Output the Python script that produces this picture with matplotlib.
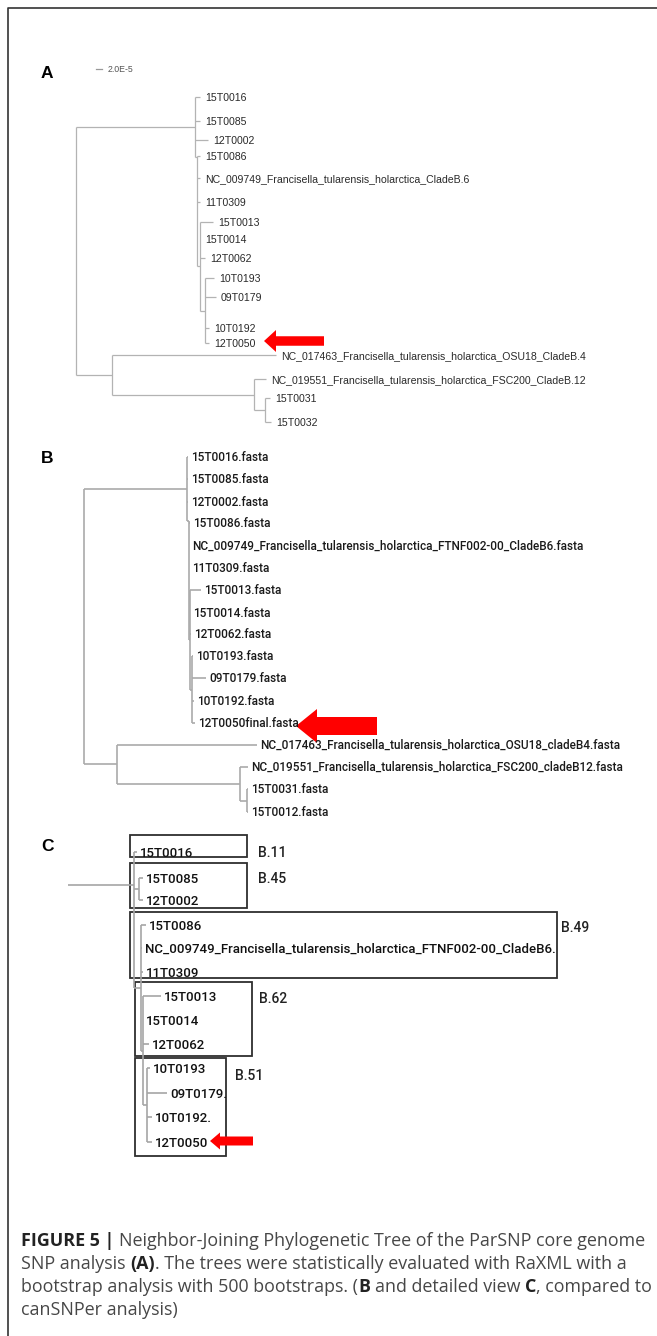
import matplotlib
matplotlib.use("Agg")
import matplotlib.pyplot as plt
from matplotlib.collections import LineCollection
from matplotlib.patches import FancyArrow, Rectangle

# ---------------------------------------------------------------- data
# shared topology (ints = leaf index, strings = internal nodes)
ab_children = {
    "R": ["U", "L"],
    "U": [0, 1, 2, "S"],
    "S": [3, 4, 5, "T"],
    "T": [6, 7, 8, "V"],
    "V": [9, 10, 11, 12],
    "L": [13, "M"],
    "M": [14, "N"],
    "N": [15, 16],
}
c_children = {
    "R": ["U"],
    "U": [0, "P", "S"],
    "P": [1, 2],
    "S": [3, 4, 5, "T"],
    "T": [6, 7, 8, "V"],
    "V": [9, 10, 11, 12],
}

# panel A
a_labels = ["15T0016", "15T0085", "12T0002", "15T0086",
            "NC_009749_Francisella_tularensis_holarctica_CladeB.6", "11T0309",
            "15T0013", "15T0014", "12T0062", "10T0193", "09T0179", "10T0192", "12T0050",
            "NC_017463_Francisella_tularensis_holarctica_OSU18_CladeB.4",
            "NC_019551_Francisella_tularensis_holarctica_FSC200_CladeB.12",
            "15T0031", "15T0032"]
a_rows = [97, 121, 140, 156, 178, 202, 222, 239, 258, 278, 297, 328, 343, 355, 379, 398, 422]
a_tips = [124, 124, 132, 124, 124, 124, 137, 124, 129, 138, 140, 133, 133, 200, 190, 194, 195]
a_node_names = ["R", "U", "S", "T", "V", "L", "M", "N"]
a_node_depths = [0, 119, 121, 124, 129, 36, 178, 189]
a_node_rows = {"S": 157}
a_scale_label = "2.0E-5"

# panel B
b_labels = ["15T0016.fasta", "15T0085.fasta", "12T0002.fasta", "15T0086.fasta",
            "NC_009749_Francisella_tularensis_holarctica_FTNF002-00_CladeB6.fasta",
            "11T0309.fasta", "15T0013.fasta", "15T0014.fasta", "12T0062.fasta",
            "10T0193.fasta", "09T0179.fasta", "10T0192.fasta", "12T0050final.fasta",
            "NC_017463_Francisella_tularensis_holarctica_OSU18_cladeB4.fasta",
            "NC_019551_Francisella_tularensis_holarctica_FSC200_cladeB12.fasta",
            "15T0031.fasta", "15T0012.fasta"]
b_rows = [457, 479, 502, 523, 546, 568, 590, 613, 634, 656, 678, 701, 723, 745, 767, 789, 812]
b_tips = [104, 104, 104, 106, 105, 105, 117, 106, 107, 109, 122, 110, 111, 173, 164, 164, 164]
b_node_names = ["R", "U", "S", "T", "V", "L", "M", "N"]
b_node_depths = [0, 103, 105, 106, 108, 33, 156, 163]
b_node_rows = {"S": 521}

# panel C
c_labels = ["15T0016", "15T0085", "12T0002", "15T0086",
            "NC_009749_Francisella_tularensis_holarctica_FTNF002-00_CladeB6.",
            "11T0309", "15T0013", "15T0014", "12T0062", "10T0193", "09T0179.",
            "10T0192.", "12T0050"]
c_rows = [852, 878, 900, 925, 948, 972, 996, 1020, 1044, 1068, 1093, 1117, 1142]
c_tips = [69, 75, 75, 78, 74, 75, 93, 75, 81, 82, 99, 84, 84]
c_node_names = ["R", "U", "P", "S", "T", "V"]
c_node_depths = [0, 66, 71, 73, 75, 79]
c_node_rows = {"U": 885}
c_clades = ["B.11", "B.45", "B.49", "B.62", "B.51"]

caption_lines = [
    [("FIGURE 5 |", True, False), ("Neighbor-Joining Phylogenetic Tree of the ParSNP core genome", False, True)],
    [("SNP analysis", False, False), ("(A)", True, True),
     (". The trees were statistically evaluated with RaXML with a", False, False)],
    [("bootstrap analysis with 500 bootstraps. (", False, False), ("B", True, False),
     ("and detailed view", False, True), ("C", True, True), (", compared to", False, False)],
    [("canSNPer analysis)", False, False)],
]

# ---------------------------------------------------------------- layout
W, H = 657, 1336
fig = plt.figure(figsize=(W / 100, H / 100), dpi=100)
ax = fig.add_axes([0, 0, 1, 1])
ax.set_xlim(0, W)
ax.set_ylim(H, 0)
ax.axis("off")
renderer = fig.canvas.get_renderer()


def px(pt):
    return pt * 100 / 72.0


def label(x, ycenter, s, size, **kw):
    # place text so that digits / capitals are centred on ycenter
    return ax.text(x, ycenter + 0.36 * px(size), s, fontsize=size, va="baseline", ha="left", **kw)


def draw_tree(root_x, rows, tips, node_names, node_depths, children, node_rows,
              color, lw, labels, pad, fsize, family, tcolor, weight="normal"):
    depth = dict(zip(node_names, node_depths))

    def y_of(n):
        if isinstance(n, int):
            return rows[n]
        if n in node_rows:
            return node_rows[n]
        ch = children[n]
        return (y_of(ch[0]) + y_of(ch[-1])) / 2.0

    def x_of(n):
        return root_x + (tips[n] if isinstance(n, int) else depth[n])

    segs = []
    for n, ch in children.items():
        ys = [y_of(c) for c in ch] + [y_of(n)]
        segs.append([(x_of(n), min(ys)), (x_of(n), max(ys))])
        for c in ch:
            segs.append([(x_of(n), y_of(c)), (x_of(c), y_of(c))])
    ax.add_collection(LineCollection(segs, colors=color, linewidths=lw, capstyle="butt"))
    for i, s in enumerate(labels):
        label(x_of(i) + pad, rows[i], s, fsize, family=family, color=tcolor, fontweight=weight)


def red_arrow(tip_x, y, length, head_len, head_w, shaft_w):
    ax.add_patch(FancyArrow(tip_x + length, y, -length, 0, width=shaft_w,
                            head_width=head_w, head_length=head_len,
                            length_includes_head=True, color="#ff0000", lw=0))


# frame
ax.plot([8, 8, W], [H, 8, 8], color="#333333", lw=1.2, solid_capstyle="butt")

# panel letters
for letter, y in (("A", 72), ("B", 457), ("C", 845)):
    label(41, y, letter, 12.5, family="Liberation Sans", fontweight="bold", color="black")

# ---- panel A
ax.plot([96, 102], [69, 69], color="#999999", lw=0.9)
label(108, 69, a_scale_label, 6.3, family="Liberation Sans", color="#555555")
draw_tree(76, a_rows, a_tips, a_node_names, a_node_depths, ab_children, a_node_rows,
          "#b3b3b3", 0.9, a_labels, 5, 7.6, "Liberation Sans", "#2a2a2a")
red_arrow(264, 341, 60, 12, 22, 9.5)

# ---- panel B
draw_tree(84, b_rows, b_tips, b_node_names, b_node_depths, ab_children, b_node_rows,
          "#aaaaaa", 1.2, b_labels, 3, 8.5, "Roboto", "#1a1a1a", "medium")
red_arrow(296, 726, 81, 21, 34, 18)

# ---- panel C
draw_tree(68, c_rows, c_tips, c_node_names, c_node_depths, c_children, c_node_rows,
          "#a5a5a5", 1.2, c_labels, 3, 9.55, "Roboto", "#111111", "medium")
c_boxes = [(130, 247, 835, 857), (130, 247, 863, 908), (130, 557, 912, 978),
           (135, 252, 982, 1056), (135, 226, 1058, 1156)]
c_box_label_pos = [(258, 852), (258, 878), (561, 927), (259, 998), (235, 1075)]
for name, (x0, x1, y0, y1), (lx, ly) in zip(c_clades, c_boxes, c_box_label_pos):
    ax.add_patch(Rectangle((x0, y0), x1 - x0, y1 - y0, fill=False, ec="#2e2e2e", lw=1.3))
    label(lx, ly, name, 10, family="Roboto", color="#222222", fontweight="medium")
red_arrow(210, 1141, 43, 10, 17, 9)

# ---- caption
cap_size = 12.9
cap_family = "Open Sans"


def text_w(s, bold):
    t = ax.text(0, 0, s, fontsize=cap_size, family=cap_family,
                fontweight="bold" if bold else "normal")
    w = t.get_window_extent(renderer).width
    t.remove()
    return w


space_w = text_w("x x", False) - text_w("xx", False)
cap_y = [1240, 1263, 1286, 1309]
for runs, yc in zip(caption_lines, cap_y):
    x = 21
    for s, bold, sp in runs:
        if sp:
            x += space_w
        t = label(x, yc, s, cap_size, family=cap_family,
                  fontweight="bold" if bold else "normal",
                  color="#222222" if bold else "#474747")
        x = t.get_window_extent(renderer).x1

fig.savefig("out.png", dpi=100)
